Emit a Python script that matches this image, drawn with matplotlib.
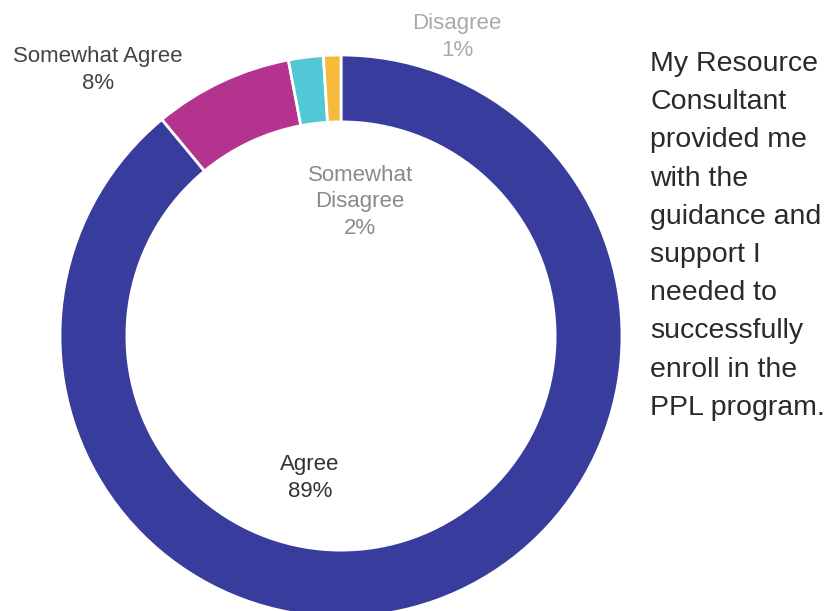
import matplotlib
matplotlib.use("Agg")
import matplotlib.pyplot as plt

categories = ["Agree", "Somewhat Agree", "Somewhat Disagree", "Disagree"]
values = [89, 8, 2, 1]
colors = ["#383c9c", "#b3338f", "#52c8d6", "#f5b93e"]
label_colors = ["#333333", "#444444", "#8a8a8a", "#aaaaaa"]
label_pos = [(-0.110, -0.505), (-0.865, 0.947), (0.068, 0.477), (0.413, 1.064)]
label_text_fmt = ["{c}\n{v}%", "{c}\n{v}%", "Somewhat\nDisagree\n{v}%", "{c}\n{v}%"]
side_text = ("My Resource\nConsultant\nprovided me\nwith the\nguidance and\nsupport I\n"
             "needed to\nsuccessfully\nenroll in the\nPPL program.")

plt.rcParams['font.family'] = ['Liberation Sans', 'DejaVu Sans']

W, H = 830, 611
fig = plt.figure(figsize=(W / 100, H / 100), dpi=100)
cx, cy, R = 341, 336, 281
ax = fig.add_axes([(cx - R) / W, (H - cy - R) / H, 2 * R / W, 2 * R / H])
ax.pie(values, colors=colors, startangle=90, counterclock=False, radius=1,
       wedgeprops=dict(width=0.238, edgecolor="white", linewidth=2))
ax.set_xlim(-1, 1)
ax.set_ylim(-1, 1)
ax.set_aspect("equal")
ax.axis("off")

for cat, v, fmt, pos, lc in zip(categories, values, label_text_fmt, label_pos, label_colors):
    ax.text(pos[0], pos[1], fmt.format(c=cat, v=v), ha="center", va="center",
            fontsize=16, color=lc, linespacing=1.35, clip_on=False)

fig.text(650 / W, 1 - 51 / H, side_text, ha="left", va="top", fontsize=20.5,
         color="#2a2a2a", linespacing=1.61)

fig.savefig("out.png", dpi=100, facecolor="white")
